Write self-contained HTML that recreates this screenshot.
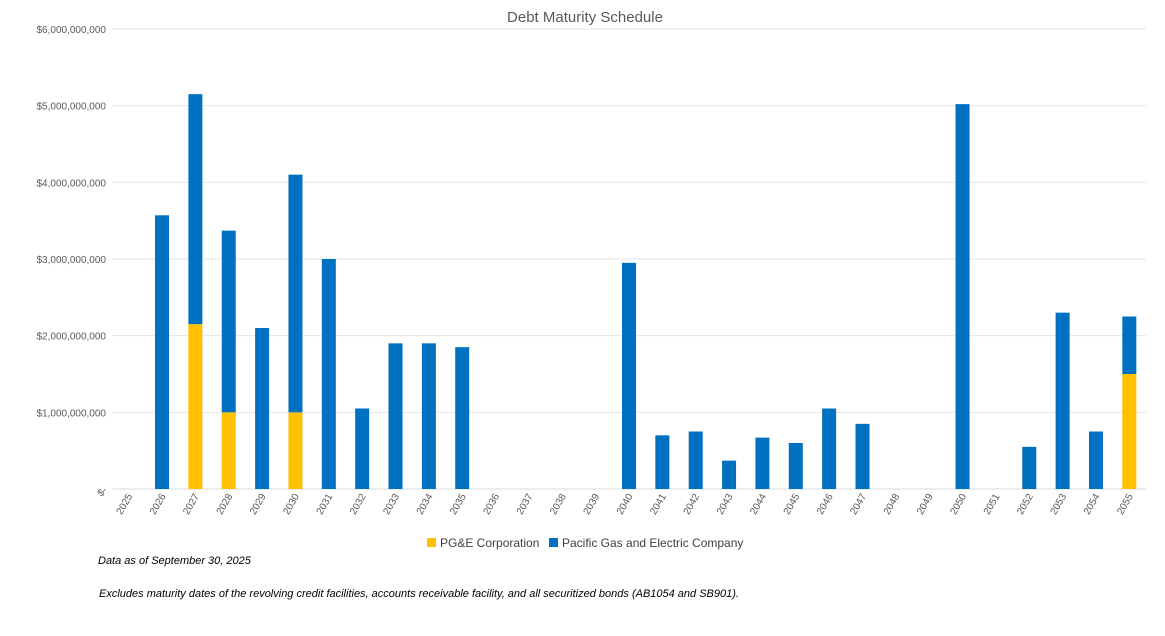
<!DOCTYPE html>
<html><head><meta charset="utf-8"><style>
body{margin:0;background:#fff;font-family:"Liberation Sans",sans-serif}
svg text{font-family:"Liberation Sans",sans-serif}
</style></head><body>
<svg id="c" width="1165" height="631">
<text x="585" y="22" text-anchor="middle" font-size="15" fill="#595959">Debt Maturity Schedule</text>
<g id="grid"></g><g id="bars"></g><g id="xl"></g>
<g>
<rect x="427" y="538" width="9" height="9" fill="#ffc000"/>
<text x="440" y="547" font-size="12" fill="#404040">PG&amp;E Corporation</text>
<rect x="549" y="538" width="9" height="9" fill="#0070c0"/>
<text x="562" y="547" font-size="12" fill="#404040">Pacific Gas and Electric Company</text>
</g>
<text x="98" y="564" font-size="11" font-style="italic" fill="#000">Data as of September 30, 2025</text>
<text x="99" y="597" font-size="11" font-style="italic" fill="#000">Excludes maturity dates of the revolving credit facilities, accounts receivable facility, and all securitized bonds (AB1054 and SB901).</text>
</svg>
<script>
const years=[];for(let y=2025;y<=2055;y++)years.push(String(y));
const pgeCorp=[0,0,2.15,1.0,0,1.0,0,0,0,0,0,0,0,0,0,0,0,0,0,0,0,0,0,0,0,0,0,0,0,0,1.5];
const pacificGas=[0,3.57,3.0,2.37,2.1,3.1,3.0,1.05,1.9,1.9,1.85,0,0,0,0,2.95,0.7,0.75,0.37,0.67,0.6,1.05,0.85,0,0,5.02,0,0.55,2.3,0.75,0.75];
const yTicks=[0,1,2,3,4,5,6];
const yTickLabels=["$-","$1,000,000,000","$2,000,000,000","$3,000,000,000","$4,000,000,000","$5,000,000,000","$6,000,000,000"];
const X0=112,X1=1146,Y0=489,Y6=29;
const step=(X1-X0)/years.length;
const xc=i=>X0+step*(i+0.5);
const ys=v=>Y0-(Y0-Y6)*v/6;
const NS="http://www.w3.org/2000/svg";
function mk(t,a,p){const e=document.createElementNS(NS,t);for(const k in a)e.setAttribute(k,a[k]);p.appendChild(e);return e;}
const g=document.getElementById('grid'),b=document.getElementById('bars'),xl=document.getElementById('xl');
yTicks.forEach((v,i)=>{
 const l=mk('line',{x1:X0,x2:X1,y1:ys(v),y2:ys(v),stroke:i==0?'#d9d9d9':'#e6e6e6','stroke-width':1},g);
 
 
 const t=mk('text',{x:106,y:ys(v)+4,'text-anchor':'end','font-size':10,fill:'#595959'},g);
 if(v===0)t.setAttribute('transform','rotate(-45 '+(104)+' '+(ys(v)+1)+')');
 t.textContent=yTickLabels[i];
 
 
});
const W=14;
years.forEach((yr,i)=>{
 const c=xc(i);
 if(pgeCorp[i]>0){const r=mk('rect',{x:c-W/2,y:ys(pgeCorp[i]),width:W,height:Y0-ys(pgeCorp[i]),fill:'#ffc000'},b);
  
  }
 if(pacificGas[i]>0){const top=pgeCorp[i]+pacificGas[i];const r=mk('rect',{x:c-W/2,y:ys(top),width:W,height:ys(pgeCorp[i])-ys(top),fill:'#0070c0'},b);
  
  }
 const t=mk('text',{x:c+4,y:496,'text-anchor':'end','font-size':10,fill:'#595959',transform:'rotate(-60 '+(c+4)+' 496)'},xl);
 t.textContent=yr;
 
 
});
</script>
</body></html>
